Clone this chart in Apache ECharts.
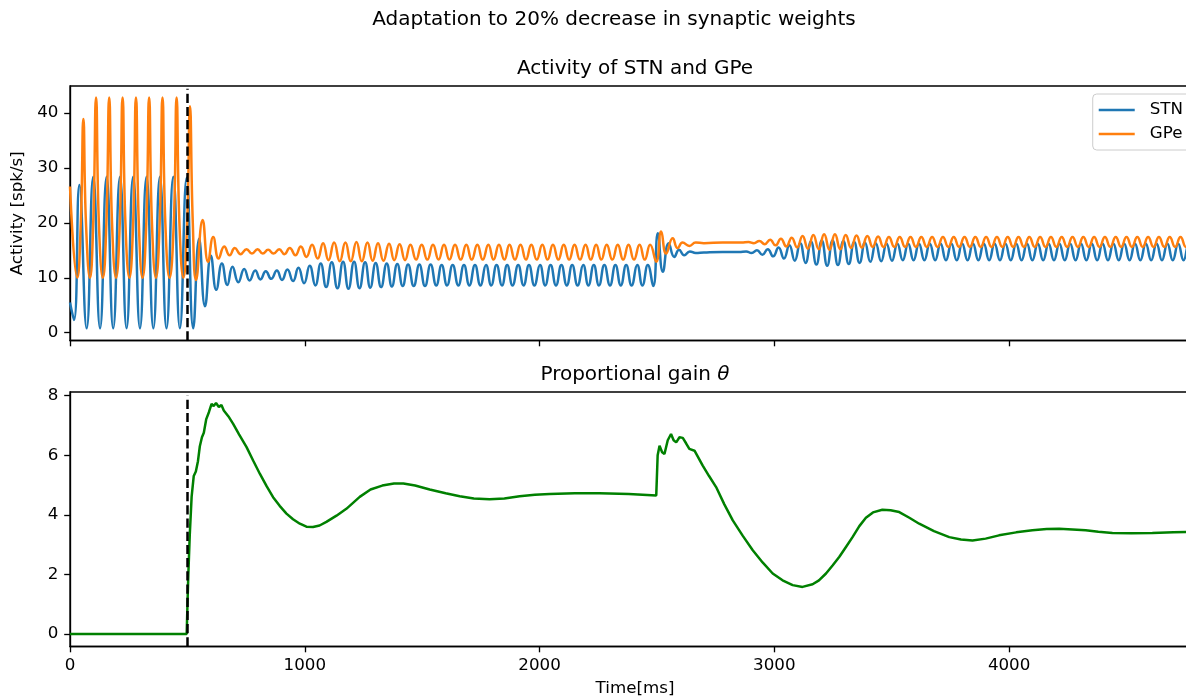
<!DOCTYPE html>
<html>
<head>
<meta charset="utf-8">
<script src="https://cdn.jsdelivr.net/npm/echarts@6/dist/echarts.min.js"></script>
<style>
html,body{margin:0;padding:0;background:#fff;}
#chart{width:1186px;height:699px;}
</style>
</head>
<body>
<div id="chart"></div>
<script>
// ---------- data ----------
const xTicks = [0, 1000, 2000, 3000, 4000];
const yTicksTop = [0, 10, 20, 30, 40];
const yTicksBottom = [0, 2, 4, 6, 8];
const stimulusTime = 500;

// STN activity (spk/s): extrema of the oscillation, [time ms, value]
const stnBurst = [[0,5.5],[17,2.3],[40,26.9],[71,0.8],[99,28.4],[128,0.8],[156,28.4],[184,0.8],[213,28.4],[241,0.8],[269,28.4],[298,0.8],[326,28.4],[355,0.8],[383,28.4],[411,0.8],[440,28.4],[468,0.8],[497,28.2]];
const stnMid = [[525,0.8],[550,17.1],[575,4.8],[600,14.0],[623,7.8],[647,12.6],[670,8.7],[692,12.0],[717,9.2],[742,11.6],[765,9.5],[789,11.3],[811,9.7],[834,11.2],[857,9.8],[881,11.3],[903,9.6],[926,11.5],[950,9.4],[973,11.8],[997,9.0],[1021,12.2],[1045,8.6],[1068,12.6],[1091,8.3],[1115,12.8],[1139,8.1],[1163,12.9],[1186,8.0],[1210,12.9],[1233,8.1],[1257,12.8],[1279,8.2],[1302,12.7],[1325,8.3],[1349,12.6],[1371,8.4],[1394,12.5],[1417,8.5],[1440,12.4],[1464,8.5],[1488,12.4],[1512,8.5],[1536,12.4],[1560,8.6],[1583,12.3],[1606,8.6],[1630,12.3],[1654,8.6],[1678,12.3],[1701,8.6],[1725,12.3],[1748,8.6],[1772,12.3],[1794,8.6],[1817,12.3],[1840,8.6],[1862,12.3],[1885,8.6],[1909,12.3],[1932,8.6],[1955,12.3],[1978,8.6],[2002,12.3],[2024,8.6],[2047,12.3],[2070,8.6],[2093,12.3],[2116,8.6],[2139,12.3],[2162,8.6],[2186,12.3],[2208,8.6],[2231,12.3],[2253,8.6],[2276,12.3],[2300,8.6],[2323,12.3],[2346,8.6],[2369,12.3],[2392,8.6],[2416,12.3],[2438,8.6],[2461,12.3],[2484,8.5]];
const stnJump = [[2504,18.1],[2525,11.1],[2550,16.3],[2574,13.8],[2594,15.1],[2616,14.1],[2640,14.8],[2665,14.5],[2700,14.6],[2780,14.7],[2850,14.7]];
const stnLate = [[2880,14.8],[2903,14.5],[2926,15.0],[2949,14.2],[2972,15.2],[2995,13.9],[3018,15.5],[3041,13.5],[3064,15.9],[3087,13.1],[3110,16.3],[3133,12.7],[3156,16.6],[3179,12.4],[3202,16.8],[3225,12.2],[3248,16.8],[3271,12.3],[3294,16.7],[3317,12.5],[3340,16.5],[3363,12.7],[3386,16.4],[3409,12.9],[3432,16.3],[3455,13.0],[3478,16.2],[3501,13.1],[3524,16.2],[3547,13.2],[3570,16.2],[3593,13.2],[3616,16.2],[3639,13.2],[3662,16.2],[3685,13.2],[3708,16.2],[3731,13.2],[3754,16.2],[3777,13.2],[3800,16.2],[3823,13.2],[3846,16.2],[3869,13.2],[3892,16.2],[3915,13.2],[3938,16.2],[3961,13.2],[3984,16.2],[4007,13.2],[4030,16.2],[4053,13.2],[4076,16.2],[4099,13.2],[4122,16.2],[4145,13.2],[4168,16.2],[4191,13.2],[4214,16.2],[4237,13.2],[4260,16.2],[4283,13.2],[4306,16.2],[4329,13.2],[4352,16.2],[4375,13.2],[4398,16.2],[4421,13.2],[4444,16.2],[4467,13.2],[4490,16.2],[4513,13.2],[4536,16.2],[4559,13.2],[4582,16.2],[4605,13.2],[4628,16.2],[4651,13.2],[4674,16.2],[4697,13.2],[4720,16.2],[4743,13.2],[4766,16.2],[4789,13.2],[4812,16.2]];

// GPe activity (spk/s)
const gpeBurst = [[0,26.6],[31,10.0],[46,20],[57,38.9],[68,20],[85,10.0],[99,20],[111,42.8],[123,20],[140,10.0],[155,20],[167,42.8],[179,20],[196,10.0],[212,20],[224,42.8],[236,20],[253,10.0],[269,20],[281,42.8],[293,20],[309,10.0],[325,20],[337,42.8],[349,20],[366,10.0],[382,20],[394,42.8],[406,20],[424,10.0],[442,20],[454,42.8],[466,20],[483,10.0],[499,20],[511,41.2],[523,20],[537,9.6]];
const gpeMid = [[565,20.5],[588,12.9],[610,17.4],[633,13.5],[657,15.7],[680,14.1],[702,15.4],[727,14.3],[752,15.2],[775,14.4],[799,15.2],[821,14.4],[844,15.1],[867,14.4],[891,15.2],[913,14.3],[936,15.4],[960,14.1],[983,15.7],[1007,13.8],[1031,16.0],[1055,13.5],[1078,16.3],[1101,13.2],[1125,16.4],[1149,13.0],[1173,16.4],[1196,13.0],[1220,16.5],[1243,13.0],[1267,16.4],[1289,13.1],[1312,16.3],[1335,13.1],[1359,16.2],[1381,13.2],[1404,16.1],[1427,13.2],[1450,16.0],[1474,13.3],[1498,16.0],[1522,13.3],[1546,16.0],[1570,13.3],[1593,16.0],[1616,13.3],[1640,16.0],[1664,13.3],[1688,16.0],[1711,13.3],[1735,16.0],[1758,13.3],[1782,16.0],[1804,13.3],[1827,16.0],[1850,13.3],[1872,16.0],[1895,13.3],[1919,16.0],[1942,13.3],[1965,16.0],[1988,13.3],[2012,16.0],[2034,13.3],[2057,16.0],[2080,13.3],[2103,16.0],[2126,13.3],[2149,16.0],[2172,13.3],[2196,16.0],[2218,13.3],[2241,16.0],[2263,13.3],[2286,16.0],[2310,13.3],[2333,16.0],[2356,13.3],[2379,16.0],[2402,13.3],[2426,16.0],[2448,13.3],[2471,16.0]];
const gpeJump = [[2497,12.9],[2518,18.4],[2539,14.4],[2567,17.2],[2588,15.4],[2609,16.4],[2638,15.8],[2665,16.4],[2700,16.3],[2780,16.4],[2860,16.4]];
const gpeLate = [[2890,16.5],[2913,16.3],[2936,16.7],[2959,16.1],[2982,16.9],[3005,15.9],[3028,17.1],[3051,15.7],[3074,17.3],[3097,15.5],[3120,17.6],[3143,15.3],[3166,17.8],[3189,15.2],[3212,17.9],[3235,15.1],[3258,17.9],[3281,15.2],[3304,17.8],[3327,15.4],[3350,17.7],[3373,15.5],[3396,17.6],[3419,15.6],[3442,17.5],[3465,15.6],[3488,17.4],[3511,15.6],[3534,17.4],[3557,15.6],[3580,17.4],[3603,15.6],[3626,17.4],[3649,15.6],[3672,17.4],[3695,15.6],[3718,17.4],[3741,15.6],[3764,17.4],[3787,15.6],[3810,17.4],[3833,15.6],[3856,17.4],[3879,15.6],[3902,17.4],[3925,15.6],[3948,17.4],[3971,15.6],[3994,17.4],[4017,15.6],[4040,17.4],[4063,15.6],[4086,17.4],[4109,15.6],[4132,17.4],[4155,15.6],[4178,17.4],[4201,15.6],[4224,17.4],[4247,15.6],[4270,17.4],[4293,15.6],[4316,17.4],[4339,15.6],[4362,17.4],[4385,15.6],[4408,17.4],[4431,15.6],[4454,17.4],[4477,15.6],[4500,17.4],[4523,15.6],[4546,17.4],[4569,15.6],[4592,17.4],[4615,15.6],[4638,17.4],[4661,15.6],[4684,17.4],[4707,15.6],[4730,17.4],[4753,15.6],[4776,17.4],[4799,15.6],[4813,16.4]];

// Proportional gain theta
const thetaPts = [[0,0],[497,0],[500,0.9],[504,2.0],[510,3.3],[518,4.6],[527,5.3],[536,5.45],[545,5.8],[553,6.3],[562,6.6],[570,6.75],[580,7.2],[592,7.45],[603,7.72],[612,7.65],[622,7.75],[634,7.62],[645,7.68],[655,7.5],[675,7.3],[695,7.05],[720,6.7],[752,6.27],[780,5.82],[809,5.37],[838,4.95],[865,4.59],[893,4.3],[922,4.04],[950,3.85],[979,3.70],[1007,3.6],[1035,3.59],[1063,3.64],[1092,3.76],[1135,3.97],[1177,4.2],[1234,4.6],[1280,4.85],[1330,4.98],[1380,5.05],[1420,5.05],[1470,4.98],[1532,4.85],[1600,4.72],[1660,4.62],[1720,4.55],[1787,4.52],[1850,4.55],[1915,4.62],[1980,4.67],[2043,4.70],[2150,4.72],[2255,4.72],[2380,4.70],[2497,4.65],[2503,6.0],[2511,6.32],[2522,6.1],[2532,6.04],[2546,6.5],[2560,6.71],[2571,6.5],[2582,6.43],[2596,6.6],[2610,6.58],[2624,6.4],[2638,6.21],[2660,6.15],[2695,5.65],[2722,5.3],[2752,4.93],[2787,4.35],[2823,3.81],[2865,3.3],[2908,2.81],[2950,2.4],[2993,2.03],[3035,1.8],[3078,1.64],[3120,1.58],[3163,1.67],[3190,1.8],[3220,2.03],[3248,2.3],[3277,2.59],[3305,2.92],[3333,3.25],[3362,3.62],[3390,3.9],[3420,4.08],[3460,4.17],[3495,4.15],[3532,4.09],[3575,3.9],[3617,3.70],[3680,3.45],[3745,3.25],[3795,3.17],[3844,3.14],[3900,3.2],[3957,3.31],[4030,3.41],[4099,3.48],[4160,3.52],[4213,3.53],[4270,3.51],[4326,3.48],[4380,3.43],[4440,3.39],[4520,3.38],[4610,3.39],[4700,3.41],[4813,3.43]];

const stnData = stnBurst.concat(stnMid, stnJump, stnLate);
const gpeData = gpeBurst.concat(gpeMid, gpeJump, gpeLate);

// ---------- chart ----------
const FONT = 'DejaVu Sans';
const chart = echarts.init(document.getElementById('chart'), null, {renderer: 'canvas'});
const titleStyle = {fontFamily: FONT, fontSize: 20, fontWeight: 'normal', color: '#000'};
const tickFont = {fontFamily: FONT, fontSize: 16.7, color: '#000'};
const plain = v => String(v);

function xAxisFor(gi, showLabels) {
  return {
    type: 'value', gridIndex: gi, min: 0, max: 4813,
    axisLine: {show: true, onZero: false, lineStyle: {color: '#000', width: 1.33}},
    axisTick: {show: true, length: 5.8, inside: false, customValues: xTicks, lineStyle: {color: '#000', width: 1.33}},
    axisLabel: Object.assign({show: showLabels, margin: 11, customValues: xTicks, formatter: plain}, tickFont),
    splitLine: {show: false},
    name: showLabels ? 'Time[ms]' : '',
    nameLocation: 'middle', nameGap: 34,
    nameTextStyle: {fontFamily: FONT, fontSize: 16.7, color: '#000'}
  };
}
function yAxisFor(gi, mn, mx, ticks, name) {
  return {
    type: 'value', gridIndex: gi, min: mn, max: mx,
    axisLine: {show: true, onZero: false, lineStyle: {color: '#000', width: 1.33}},
    axisTick: {show: true, length: 5.8, customValues: ticks, lineStyle: {color: '#000', width: 1.33}},
    axisLabel: Object.assign({margin: 11.6, customValues: ticks, formatter: plain}, tickFont),
    splitLine: {show: false},
    name: name, nameLocation: 'middle', nameGap: 39, nameRotate: 90,
    nameTextStyle: {fontFamily: FONT, fontSize: 16.7, color: '#000'}
  };
}

const dash = {
  silent: true, symbol: ['none', 'none'], animation: false,
  label: {show: false},
  lineStyle: {color: '#000', width: 2.5, type: [9.2, 4], opacity: 1}
};

const gridBase = {left: 70, width: 1130, height: 254.5, show: true, borderColor: '#000', borderWidth: 1.33,
  backgroundColor: 'transparent', containLabel: false, outerBoundsMode: 'none'};

const option = {
  animation: false,
  backgroundColor: '#fff',
  title: [
    {text: 'Adaptation to 20% decrease in synaptic weights', left: 614, top: 10, textAlign: 'center', padding: 0, textStyle: titleStyle},
    {text: 'Activity of STN and GPe', left: 635, top: 59, textAlign: 'center', padding: 0, textStyle: titleStyle},
    {text: 'Proportional gain {i|θ}', left: 635, top: 365, textAlign: 'center', padding: 0,
      textStyle: Object.assign({rich: {i: {fontFamily: FONT, fontSize: 20, fontStyle: 'italic', color: '#000'}}}, titleStyle)}
  ],
  legend: {
    data: ['STN', 'GPe'], orient: 'vertical', right: -6, top: 94,
    padding: [6, 9, 6, 6], itemWidth: 36, itemHeight: 2.5, itemGap: 4, icon: 'rect',
    backgroundColor: 'rgba(255,255,255,0.8)', borderColor: '#cccccc', borderWidth: 1, borderRadius: 4,
    textStyle: {fontFamily: FONT, fontSize: 16.7, color: '#000', padding: [0, 0, 0, 10], lineHeight: 20}
  },
  grid: [
    Object.assign({top: 86}, gridBase),
    Object.assign({top: 392}, gridBase)
  ],
  xAxis: [xAxisFor(0, false), xAxisFor(1, true)],
  yAxis: [
    yAxisFor(0, -1.42, 44.9, yTicksTop, 'Activity [spk/s]'),
    yAxisFor(1, -0.42, 8.12, yTicksBottom, '')
  ],
  series: [
    {name: 'STN', type: 'line', xAxisIndex: 0, yAxisIndex: 0, data: stnData, smooth: 0.5, symbol: 'none',
      lineStyle: {color: '#1f77b4', width: 2.5}, itemStyle: {color: '#1f77b4'}, z: 2},
    {name: 'GPe', type: 'line', xAxisIndex: 0, yAxisIndex: 0, data: gpeData, smooth: 0.5, symbol: 'none',
      lineStyle: {color: '#ff7f0e', width: 2.5}, itemStyle: {color: '#ff7f0e'}, z: 3,
      markLine: Object.assign({data: [[{coord: [stimulusTime, -1.42]}, {coord: [stimulusTime, 44.4]}]]}, dash)},
    {name: 'theta', type: 'line', xAxisIndex: 1, yAxisIndex: 1, data: thetaPts, smooth: false, symbol: 'none',
      lineStyle: {color: '#008000', width: 2.5}, itemStyle: {color: '#008000'}, z: 3,
      markLine: Object.assign({data: [[{coord: [stimulusTime, -0.42]}, {coord: [stimulusTime, 8.0]}]]}, dash)}
  ]
};
chart.setOption(option);
</script>
</body>
</html>
